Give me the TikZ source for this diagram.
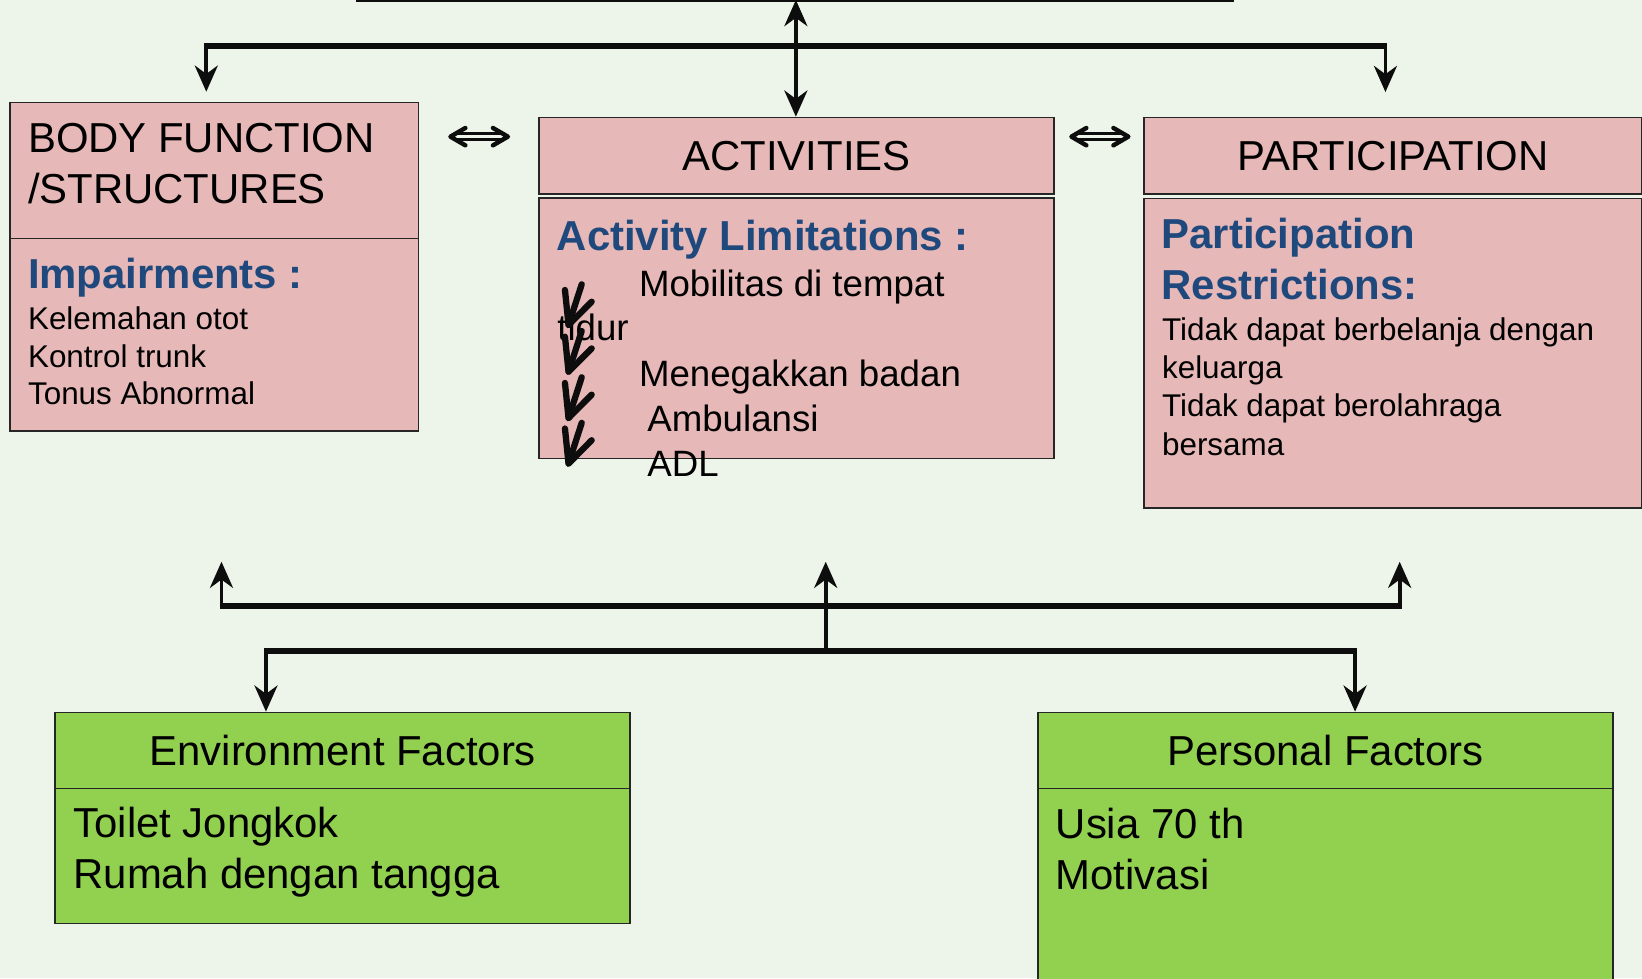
\documentclass[tikz,border=0pt]{standalone}
\usepackage{xcolor}
\usepackage{fontspec}
\setmainfont{Liberation Sans}
\usepackage{tikz}
\usetikzlibrary{arrows}
\usetikzlibrary{arrows.meta}
\usetikzlibrary{positioning, calc}
\definecolor{paper}{RGB}{237,245,234}
\definecolor{rosebox}{RGB}{230,184,183}
\definecolor{leafbox}{RGB}{146,208,80}
\definecolor{titleblue}{RGB}{31,73,125}
\tikzset{
rose box/.style = { rectangle, draw = black!85, fill = rosebox, line width = 1.6pt, anchor = north west, inner sep = 0pt, font = \fontsize{40}{48}\selectfont },
leaf box/.style = { rectangle, draw = black!85, fill = leafbox, line width = 1.6pt, anchor = north west, inner sep = 0pt, font = \fontsize{40}{48}\selectfont },
big text/.style = { anchor = base west, inner sep = 0pt, font = \fontsize{40}{48}\selectfont },
key text/.style = { anchor = base west, inner sep = 0pt, text = titleblue, font = \fontsize{40}{48}\selectfont\bfseries },
mid text/.style = { anchor = base west, inner sep = 0pt, font = \fontsize{35}{42}\selectfont },
small text/.style = { anchor = base west, inner sep = 0pt, font = \fontsize{30}{36}\selectfont },
link bar/.style = { draw = black!95, line width = 5.6pt, shorten <= -1.8pt, shorten >= -1.8pt },
link stem/.style = { draw = black!95, line width = 3.6pt },
pair line/.style = { draw = black!95, double = paper, double distance = 2.6pt, line width = 2.8pt, shorten <= 3pt, shorten >= 3pt },
chevron/.style = { draw = black!95, line width = 4.2pt, line cap = round, line join = round },
}
\tikzset{
pics/limit arrow/.style = {
        code = {
        \draw[black!95, line width = 6pt, line cap = round, line join = round] (12.6, -38.9) -- (0, 0);
        \draw[black!95, line width = 6pt, line cap = round, line join = round] (-3.4, -33.5) -- (0, 0) -- (22.1, -22.3);
        }
    }
}
\begin{document}
\begin{tikzpicture}[x=1pt, y=-1pt, >={Stealth[length=25pt, width=22pt, inset=8pt]}]
    \useasboundingbox (0,0) rectangle (1568,934);
    \clip (0,0) rectangle (1568,934);
    \fill[paper] (0,0) rectangle (1568,934);
    \begin{scope}
      \node[rose box, minimum width=389.9pt, minimum height=129.9pt] (bodyhead) at (8.9,97.1) {};
      \node[rose box, minimum width=389.9pt, minimum height=183.6pt] (bodybox) at (8.9,227) {};
      \node[rose box, minimum width=491.3pt, minimum height=73.2pt] (acthead) at (514.2,111.4) {ACTIVITIES};
      \node[rose box, minimum width=491.3pt, minimum height=248.5pt] (actbox) at (514.2,188.5) {};
      \node[rose box, minimum width=475.2pt, minimum height=73.2pt] (parthead) at (1091.8,111.4) {PARTICIPATION};
      \node[rose box, minimum width=475.2pt, minimum height=295.7pt] (partbox) at (1091.8,188.8) {};
      \node[leaf box, minimum width=549pt, minimum height=72.6pt] (envhead) at (52,679.6) {Environment Factors};
      \node[leaf box, minimum width=549pt, minimum height=128.9pt] (envbox) at (52,752.2) {};
      \node[leaf box, minimum width=549.4pt, minimum height=72.6pt] (perhead) at (990.3,679.6) {Personal Factors};
      \node[leaf box, minimum width=549.4pt, minimum height=220pt] (perbox) at (990.3,752.2) {};
    \end{scope}
    \begin{scope}
      \node[big text] (bf1) at (26.6,145.5) {BODY FUNCTION};
      \node[big text] (bf2) at (26.6,194.2) {/STRUCTURES};
      \node[key text] (imp) at (26.6,275.3) {Impairments :};
      \node[small text] (imp1) at (26.6,315.1) {Kelemahan otot};
      \node[small text] (imp2) at (26.6,351.1) {Kontrol trunk};
      \node[small text] (imp3) at (26.6,386.7) {Tonus Abnormal};
      \node[key text] (lim) at (531.5,238.9) {Activity Limitations :};
      \node[mid text] (lim1) at (610,283.1) {Mobilitas di tempat};
      \node[mid text] (lim1b) at (532,325.1) {tidur};
      \node[mid text] (lim2) at (610,368.7) {Menegakkan badan};
      \node[mid text] (lim3) at (618,412.3) {Ambulansi};
      \node[mid text] (lim4) at (618,455.2) {ADL};
      \node[key text] (res) at (1109,237.1) {Participation};
      \node[key text] (res2) at (1109,285.8) {Restrictions:};
      \node[small text] (res3) at (1109.5,324.7) {Tidak dapat berbelanja dengan};
      \node[small text] (res4) at (1109.5,361.3) {keluarga};
      \node[small text] (res5) at (1109.5,397.9) {Tidak dapat berolahraga};
      \node[small text] (res6) at (1109.5,434.5) {bersama};
      \node[big text] (env1) at (70,799.6) {Toilet Jongkok};
      \node[big text] (env2) at (70,848.3) {Rumah dengan tangga};
      \node[big text] (per1) at (1008,800.5) {Usia 70 th};
      \node[big text] (per2) at (1008,849.2) {Motivasi};
    \end{scope}
    \pic at (542.9,310.4) {limit arrow};
    \pic at (542.9,355.0) {limit arrow};
    \pic at (542.9,399.2) {limit arrow};
    \pic at (542.9,442.7) {limit arrow};
    \coordinate (hcL) at (340,0);
    \coordinate (hcR) at (1178,0);
    \coordinate (hcM) at (760,0);
    \coordinate (tbL) at (197,44);
    \coordinate (tbR) at (1323,44);
    \coordinate (lk) at (760,130.5);
    \coordinate (ubL) at (211.5,578.4);
    \coordinate (ubR) at (1336.6,578.4);
    \coordinate (lbL) at (254,621.7);
    \coordinate (lbM) at (788.5,621.7);
    \coordinate (lbR) at (1294,621.7);
    \coordinate (upL) at (211.5,536.4);
    \coordinate (upM) at (788.5,536.4);
    \coordinate (upR) at (1336.6,536.4);
    \coordinate (pa1) at ($(bodyhead.east |- lk)+(29.7,0)$);
    \coordinate (pb1) at ($(acthead.west |- lk)+(-29.2,0)$);
    \coordinate (pa2) at ($(acthead.east |- lk)+(16,0)$);
    \coordinate (pb2) at ($(parthead.west |- lk)+(-14.3,0)$);
    \begin{scope}
      \draw[link stem, line width=3pt] (hcL) -- (hcR);
      \draw[link bar] (tbL) -- (tbR);
      \draw[link stem, <->] (hcM) -- (hcM |- acthead.north);
      \draw[link stem, ->, shorten >=9.5pt] (tbL) -- (tbL |- bodyhead.north);
      \draw[link stem, ->, shorten >=23.5pt] (tbR) -- (tbR |- parthead.north);
    \end{scope}
    \begin{scope}
      \draw[pair line] (pa1) -- (pb1);
      \draw[chevron] ($(pa1)+(14.3,-8.3)$) -- (pa1) -- ($(pa1)+(14.3,8.3)$);
      \draw[chevron] ($(pb1)+(-14.3,-8.3)$) -- (pb1) -- ($(pb1)+(-14.3,8.3)$);
      \draw[pair line] (pa2) -- (pb2);
      \draw[chevron] ($(pa2)+(14.3,-8.3)$) -- (pa2) -- ($(pa2)+(14.3,8.3)$);
      \draw[chevron] ($(pb2)+(-14.3,-8.3)$) -- (pb2) -- ($(pb2)+(-14.3,8.3)$);
    \end{scope}
    \begin{scope}
      \draw[link bar] (ubL) -- (ubR);
      \draw[link bar] (lbL) -- (lbR);
      \draw[link stem, ->] (ubL) -- (upL);
      \draw[link stem, ->] (lbM) -- (upM);
      \draw[link stem, ->] (ubR) -- (upR);
      \draw[link stem, ->] (lbL) -- (lbL |- envhead.north);
      \draw[link stem, ->] (lbR) -- (lbR |- perhead.north);
    \end{scope}
  \end{tikzpicture}
\end{document}
